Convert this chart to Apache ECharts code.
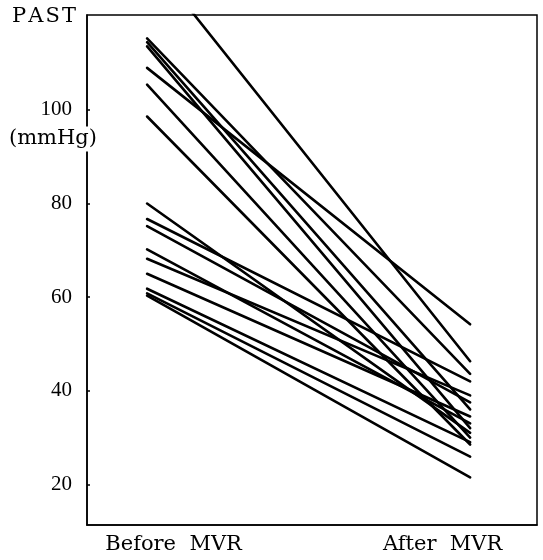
<!DOCTYPE html>
<html>
<head>
<meta charset="utf-8">
<script src="https://cdn.jsdelivr.net/npm/echarts@6/dist/echarts.min.js"></script>
<style>html,body{margin:0;padding:0;background:#fff}#c{width:543px;height:560px}</style>
</head>
<body>
<div id="c"></div>
<script>
var categories = ['Before  MVR', 'After  MVR'];
var beforeValues = [133, 115.3, 114.5, 113.6, 109.0, 105.4, 98.6, 80.0, 76.7, 75.2, 70.2, 68.2, 65.0, 61.8, 60.8, 60.3];
var afterValues  = [46.3, 43.6, 36.0, 32.0, 54.2, 30.0, 28.5, 31.0, 42.0, 37.5, 33.0, 39.0, 34.5, 29.0, 25.9, 21.5];
var yTicks = [20, 40, 60, 80, 100];
var xLabelPos = [0.082, 0.915];

var series = beforeValues.map(function (b, i) {
  return {
    type: 'line',
    data: [[0, b], [1, afterValues[i]]],
    symbol: 'none',
    clip: true,
    lineStyle: { color: '#000', width: 2.6, cap: 'round' },
    silent: true
  };
});

var textFont = '21px "DejaVu Serif"';
var chart = echarts.init(document.getElementById('c'), null, { renderer: 'canvas' });
chart.setOption({
  animation: false,
  backgroundColor: '#fff',
  grid: { left: 87, top: 15, right: 6, bottom: 35, show: true, borderColor: '#000', borderWidth: 1.5, backgroundColor: 'transparent' },
  xAxis: {
    type: 'value', min: -0.186, max: 1.207,
    splitLine: { show: false },
    axisLine: { show: true, onZero: false, lineStyle: { color: '#000', width: 1.5 } },
    axisTick: { show: false },
    axisLabel: {
      customValues: xLabelPos,
      formatter: function (v) { return categories[xLabelPos.indexOf(v)] || ''; },
      fontFamily: 'DejaVu Serif', fontSize: 21, color: '#000', margin: 9
    }
  },
  yAxis: {
    type: 'value', min: 11.3, max: 120.3,
    splitLine: { show: false },
    axisLine: { show: true, onZero: false, lineStyle: { color: '#000', width: 1.5 } },
    axisTick: { show: true, inside: true, length: 3, customValues: yTicks, lineStyle: { color: '#000', width: 1.5 } },
    axisLabel: { customValues: yTicks, fontFamily: 'Liberation Serif', fontSize: 21, color: '#000', margin: 15 }
  },
  graphic: [
    { type: 'text', x: 12, y: 17, z: 100, style: { text: 'P\u200AA\u200AS\u200AT', font: textFont, fill: '#000', verticalAlign: 'middle' } },
    { type: 'text', x: 9, y: 139, z: 100, style: { text: '(mmHg)', font: textFont, fill: '#000', verticalAlign: 'middle', backgroundColor: '#fff', padding: [2, 2, 2, 0] } }
  ],
  series: series
});
</script>
</body>
</html>
